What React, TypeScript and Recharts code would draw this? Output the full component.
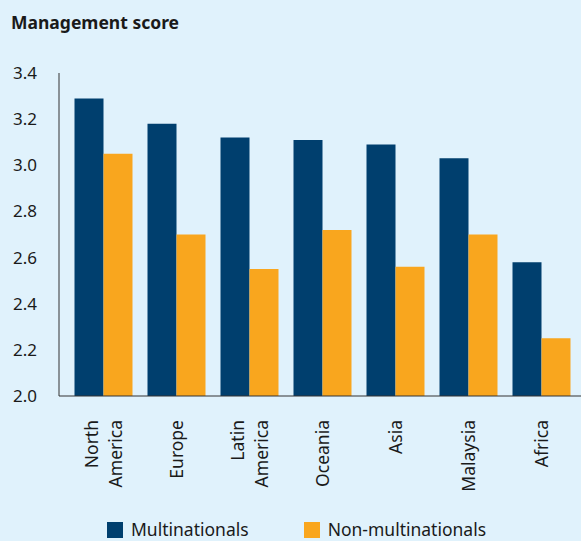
import { BarChart, Bar, XAxis, YAxis, Legend } from "recharts";

const regions = ["North\nAmerica", "Europe", "Latin\nAmerica", "Oceania", "Asia", "Malaysia", "Africa"];
const multinationals = [3.29, 3.18, 3.12, 3.11, 3.09, 3.03, 2.58];
const nonMultinationals = [3.05, 2.7, 2.55, 2.72, 2.56, 2.7, 2.25];
const yTicks = [2.0, 2.2, 2.4, 2.6, 2.8, 3.0, 3.2, 3.4];

const NAVY = "#003f6e";
const ORANGE = "#f9a61e";
const BG = "#e0f2fc";
const FONT = "'Noto Sans', 'Open Sans', sans-serif";

const data = regions.map((region, i) => ({
  region,
  multi: multinationals[i],
  nonMulti: nonMultinationals[i],
}));

// rotated, possibly two-line category labels
function RegionTick(props: any) {
  const { x, payload } = props;
  const lines = String(payload.value).split("\n");
  const n = lines.length;
  return (
    <g transform={`translate(${x},420)`}>
      <text transform="rotate(-90)" textAnchor="end" fill="#1a1a1a" fontSize={17.5} fontFamily={FONT}>
        {lines.map((line, i) => (
          <tspan key={i} x={0} y={6.5 + (i - (n - 1) / 2) * 24}>
            {line}
          </tspan>
        ))}
      </text>
    </g>
  );
}

function LegendContent() {
  const items = [
    { label: "Multinationals", color: NAVY },
    { label: "Non-multinationals", color: ORANGE },
  ];
  return (
    <div
      style={{
        display: "flex",
        alignItems: "center",
        fontFamily: FONT,
        fontSize: 17.5,
        lineHeight: 1,
        color: "#1a1a1a",
      }}
    >
      {items.map((it, i) => (
        <div key={it.label} style={{ display: "flex", alignItems: "center", marginRight: i === 0 ? 55 : 0 }}>
          <span style={{ width: 16, height: 16, background: it.color, display: "inline-block", marginRight: 8 }} />
          <span>{it.label}</span>
        </div>
      ))}
    </div>
  );
}

export default function App() {
  return (
    <div style={{ position: "absolute", left: 0, top: 0, width: 581, height: 541, background: BG, overflow: "hidden" }}>
      <div
        style={{
          position: "absolute",
          left: 11,
          top: 10,
          fontFamily: FONT,
          fontWeight: 700,
          fontSize: 17.5,
          color: "#1a1a1a",
          lineHeight: "normal",
        }}
      >
        Management score
      </div>
      <BarChart
        width={581}
        height={541}
        data={data}
        margin={{ top: 73, right: 0, left: 0, bottom: 45 }}
        barCategoryGap={7.5}
        barGap={0}
      >
        <XAxis
          dataKey="region"
          interval={0}
          height={100}
          tickLine={false}
          axisLine={{ stroke: "#333" }}
          padding={{ left: 8, right: 3 }}
          tick={<RegionTick />}
        />
        <YAxis
          domain={[2, 3.4]}
          ticks={yTicks}
          width={59}
          tickLine={false}
          tickMargin={16}
          axisLine={{ stroke: "#333" }}
          tickFormatter={(v: number) => v.toFixed(1)}
          tick={{ fill: "#1a1a1a", fontSize: 17, fontFamily: FONT }}
        />
        <Legend
          verticalAlign="middle"
          content={<LegendContent />}
          wrapperStyle={{ position: "absolute", top: 521, left: 107, width: 460 }}
        />
        <Bar dataKey="multi" name="Multinationals" fill={NAVY} isAnimationActive={false} />
        <Bar dataKey="nonMulti" name="Non-multinationals" fill={ORANGE} isAnimationActive={false} />
      </BarChart>
    </div>
  );
}
